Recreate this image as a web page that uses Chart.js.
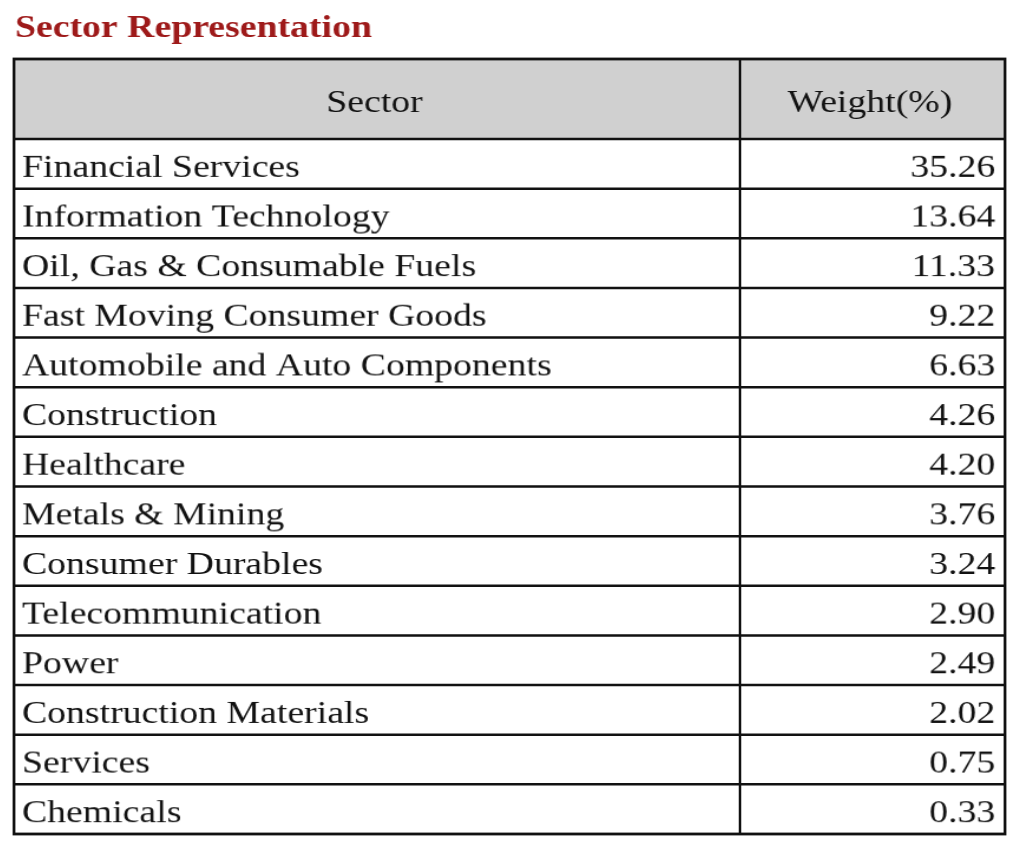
<!DOCTYPE html>
<html>
<head>
<meta charset="utf-8">
<script src="https://cdn.jsdelivr.net/npm/chart.js@4"></script>
<style>
html,body{margin:0;padding:0;background:#fff;}
canvas{display:block;}
</style>
</head>
<body>
<canvas id="c" width="1024" height="853"></canvas>
<script>
const title = "Sector Representation";
const headers = ["Sector", "Weight(%)"];
const sectors = [
  "Financial Services",
  "Information Technology",
  "Oil, Gas & Consumable Fuels",
  "Fast Moving Consumer Goods",
  "Automobile and Auto Components",
  "Construction",
  "Healthcare",
  "Metals & Mining",
  "Consumer Durables",
  "Telecommunication",
  "Power",
  "Construction Materials",
  "Services",
  "Chemicals"
];
const weights = [35.26, 13.64, 11.33, 9.22, 6.63, 4.26, 4.20, 3.76, 3.24, 2.90, 2.49, 2.02, 0.75, 0.33];

const FONT = '"Liberation Serif", "Times New Roman", serif';
const SX = 1.18;        // horizontal stretch of the reference glyphs
const DIVIDER_X = 740;  // column divider
const HEADER_TOP = 59;

// render text unscaled on an offscreen canvas, then stretch it horizontally
function stretchedText(ctx, txt, x, y, align, font, color) {
  const off = document.createElement('canvas');
  const o = off.getContext('2d');
  o.font = font;
  const w = Math.ceil(o.measureText(txt).width) + 4;
  const asc = 36, h = 48;
  off.width = w; off.height = h;
  o.font = font;
  o.fillStyle = color;
  o.textBaseline = 'alphabetic';
  o.textAlign = 'left';
  o.fillText(txt, 1, asc);
  const dw = w * SX;
  let left = x;
  if (align === 'center') left = x - dw / 2;
  else if (align === 'right') left = x - dw + 3;
  ctx.drawImage(off, 0, 0, w, h, left - SX, y - asc, dw, h);
}

const tablePlugin = {
  id: 'tablePlugin',
  afterDatasetsDraw(chart) {
    const ctx = chart.ctx;
    const ca = chart.chartArea;
    const y = chart.scales.y;
    const vals = chart.data.datasets[0].data;
    const labels = chart.data.labels;
    const n = labels.length;
    const band = (y.getPixelForValue(1) - y.getPixelForValue(0));
    const body = '32px ' + FONT;
    const ink = '#111';

    ctx.save();
    // header background
    ctx.fillStyle = '#d0d0d0';
    ctx.fillRect(ca.left, HEADER_TOP, ca.right - ca.left, ca.top - HEADER_TOP);

    // title
    stretchedText(ctx, title, 15, 37, 'left', 'bold 32px ' + FONT, '#9e1a1a');

    // header text
    const hMid = (HEADER_TOP + ca.top) / 2;
    stretchedText(ctx, headers[0], (ca.left + DIVIDER_X) / 2, hMid + 13, 'center', body, ink);
    stretchedText(ctx, headers[1], (DIVIDER_X + ca.right) / 2, hMid + 13, 'center', body, ink);

    // rows
    for (let i = 0; i < n; i++) {
      const cy = y.getPixelForValue(i);
      stretchedText(ctx, labels[i], 22, cy + 13, 'left', body, ink);
      stretchedText(ctx, vals[i].toFixed(2), ca.right - 8, cy + 13, 'right', body, ink);
    }

    // grid lines
    ctx.strokeStyle = '#111';
    ctx.lineWidth = 2.5;
    ctx.beginPath();
    for (let i = 0; i < n; i++) {
      const by = y.getPixelForValue(i) - band / 2;
      ctx.moveTo(ca.left, by);
      ctx.lineTo(ca.right, by);
    }
    ctx.moveTo(DIVIDER_X, HEADER_TOP);
    ctx.lineTo(DIVIDER_X, ca.bottom);
    ctx.stroke();
    ctx.lineWidth = 2.8;
    ctx.strokeRect(ca.left, HEADER_TOP, ca.right - ca.left, ca.bottom - HEADER_TOP);
    ctx.restore();
  }
};

new Chart(document.getElementById('c'), {
  type: 'bar',
  data: {
    labels: sectors,
    datasets: [{ label: headers[1], data: weights, backgroundColor: 'rgba(0,0,0,0)', borderWidth: 0 }]
  },
  options: {
    indexAxis: 'y',
    responsive: false,
    animation: false,
    devicePixelRatio: 1,
    layout: { padding: { left: 14, right: 19, top: 139, bottom: 19 } },
    plugins: { legend: { display: false }, tooltip: { enabled: false }, title: { display: false } },
    scales: {
      x: { display: false, min: 0, max: 40 },
      y: { display: false, offset: true }
    }
  },
  plugins: [tablePlugin]
});
</script>
</body>
</html>
